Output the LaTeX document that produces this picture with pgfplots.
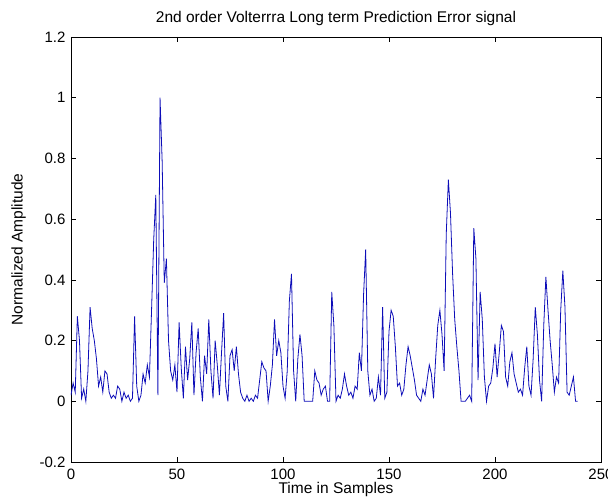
\documentclass[border=0pt]{standalone}
\usepackage{fontspec}
\setmainfont{Liberation Sans}
\usepackage{pgfplots}
\pgfplotsset{compat=1.18}
\definecolor{mblue}{rgb}{0.05,0.05,0.72}
\begin{document}
\begin{tikzpicture}
\begin{axis}[
  scale only axis,
  width=530pt, height=425pt,
  xmin=0, xmax=250, ymin=-0.2, ymax=1.2,
  xtick={0,50,100,150,200,250},
  ytick={-0.2,0,0.2,0.4,0.6,0.8,1,1.2},
  yticklabels={-0.2,0,0.2,0.4,0.6,0.8,1,1.2},
  tick align=inside,
  major tick length=5pt,
  axis line style={line width=0.7pt},
  every tick/.style={black,line width=0.7pt},
  /pgf/number format/assume math mode=true,
  tick label style={font=\fontsize{15}{17}\selectfont},
  label style={font=\fontsize{15.5}{18}\selectfont},
  title style={font=\fontsize{15.5}{18}\selectfont, at={(0.5,1)}, anchor=south, yshift=2pt},
  xticklabel style={anchor=base, yshift=-18pt, inner sep=0pt},
  yticklabel style={xshift=-2pt},
  title={2nd order Volterrra Long term Prediction Error signal},
  xlabel={Time in Samples},
  ylabel={Normalized Amplitude},
  xlabel style={at={(0.5,0)}, anchor=base, yshift=-32pt, inner sep=0pt},
  ylabel style={yshift=7pt},
]
\addplot[mblue, line width=0.8pt, line join=miter] table {
x y
0 0.02
1 0.06
2 0.03
3 0.28
4 0.20
5 0.01
6 0.04
7 0.00
8 0.10
9 0.31
10 0.24
11 0.20
12 0.14
13 0.05
14 0.08
15 0.03
16 0.10
17 0.09
18 0.03
19 0.01
20 0.02
21 0.01
22 0.05
23 0.04
24 0.00
25 0.03
26 0.01
27 0.02
28 0.00
29 0.01
30 0.28
31 0.05
32 0.00
33 0.02
34 0.09
35 0.06
36 0.12
37 0.08
38 0.30
39 0.53
40 0.68
41 0.02
42 1.00
43 0.79
44 0.39
45 0.47
46 0.20
47 0.10
48 0.07
49 0.12
50 0.03
51 0.26
52 0.11
53 0.01
54 0.18
55 0.07
56 0.14
57 0.26
58 0.02
59 0.16
60 0.24
61 0.08
62 0.00
63 0.15
64 0.09
65 0.27
66 0.10
67 0.01
68 0.20
69 0.12
70 0.02
71 0.16
72 0.29
73 0.05
74 0.00
75 0.15
76 0.17
77 0.10
78 0.18
79 0.09
80 0.03
81 0.01
82 0.00
83 0.02
84 0.00
85 0.01
86 0.00
87 0.02
88 0.01
89 0.07
90 0.13
91 0.11
92 0.10
93 0.00
94 0.05
95 0.12
96 0.27
97 0.15
98 0.20
99 0.16
100 0.05
101 0.01
102 0.10
103 0.33
104 0.42
105 0.10
106 0.00
107 0.14
108 0.22
109 0.15
110 0.00
111 0.00
112 0.00
113 0.00
114 0.00
115 0.10
116 0.07
117 0.06
118 0.02
119 0.04
120 0.05
121 0.00
122 0.00
123 0.36
124 0.25
125 0.00
126 0.02
127 0.01
128 0.04
129 0.09
130 0.05
131 0.02
132 0.03
133 0.01
134 0.05
135 0.04
136 0.16
137 0.10
138 0.35
139 0.50
140 0.10
141 0.02
142 0.04
143 0.00
144 0.01
145 0.08
146 0.02
147 0.31
148 0.01
149 0.03
150 0.23
151 0.30
152 0.28
153 0.18
154 0.05
155 0.06
156 0.02
157 0.04
158 0.12
159 0.18
160 0.15
161 0.11
162 0.07
163 0.02
164 0.01
165 0.00
166 0.04
167 0.02
168 0.07
169 0.12
170 0.09
171 0.01
172 0.14
173 0.25
174 0.30
175 0.22
176 0.10
177 0.55
178 0.73
179 0.62
180 0.42
181 0.27
182 0.18
183 0.10
184 0.00
185 0.00
186 0.00
187 0.01
188 0.02
189 0.00
190 0.57
191 0.47
192 0.07
193 0.36
194 0.27
195 0.08
196 0.00
197 0.05
198 0.06
199 0.11
200 0.19
201 0.08
202 0.16
203 0.25
204 0.23
205 0.08
206 0.05
207 0.13
208 0.16
209 0.09
210 0.06
211 0.03
212 0.04
213 0.02
214 0.11
215 0.18
216 0.05
217 0.02
218 0.14
219 0.31
220 0.22
221 0.07
222 0.00
223 0.25
224 0.41
225 0.30
226 0.20
227 0.12
228 0.03
229 0.08
230 0.06
231 0.30
232 0.43
233 0.31
234 0.03
235 0.02
236 0.05
237 0.08
238 0.00
239 0.00
};
\end{axis}
\pgfresetboundingbox
\path[use as bounding box] ([xshift=-71pt,yshift=-35pt]current axis.south west) rectangle ([xshift=7pt,yshift=37pt]current axis.north east);
\end{tikzpicture}
\end{document}
